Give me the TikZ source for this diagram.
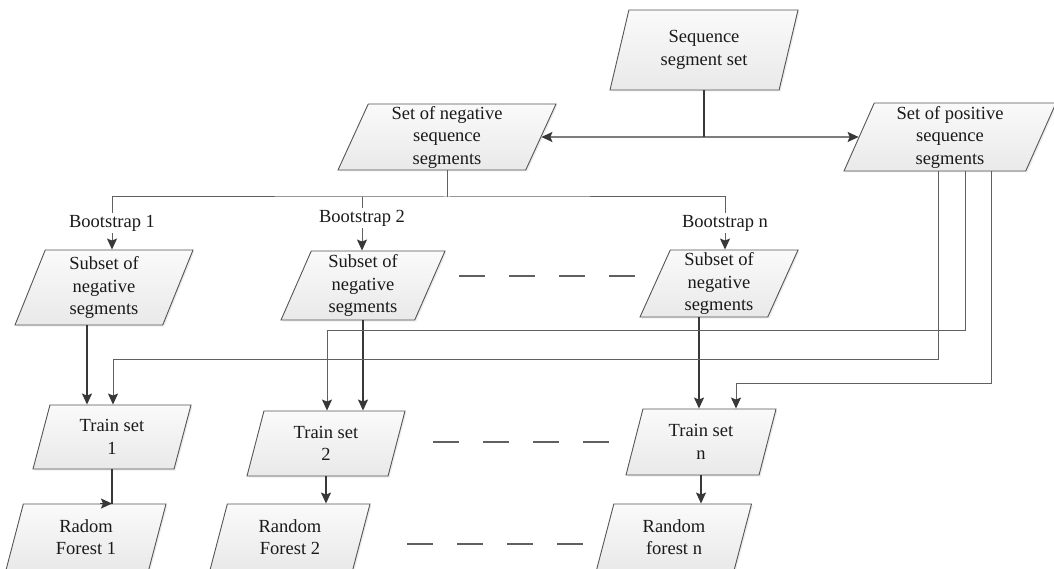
\documentclass[tikz,border=0pt]{standalone}
\usepackage{fontspec}
\setmainfont{Liberation Serif}
\usetikzlibrary{shapes.geometric,arrows.meta,shadows,calc}
\definecolor{edge}{HTML}{555555}
\definecolor{wirec}{HTML}{383838}
\definecolor{thinc}{HTML}{606060}
\definecolor{fillT}{HTML}{FAFAFA}
\definecolor{fillB}{HTML}{E9E9E9}
\definecolor{ink}{HTML}{1A1A1A}
\begin{document}
\begin{tikzpicture}[x=1pt,y=-1pt,
  every node/.style={font=\fontsize{18.5}{22.5}\selectfont, text=ink},
  box/.style={trapezium, trapezium left angle=64, trapezium right angle=116,
    trapezium stretches body, draw=edge, line width=0.9pt,
    top color=fillT, bottom color=fillB, inner sep=0pt, align=center,
    drop shadow={shadow xshift=1.5pt, shadow yshift=-1.5pt, opacity=0.15}},
  lbl/.style={inner sep=2pt},
  tip/.style={-{Stealth[length=11pt,width=10pt,inset=2pt,color=wirec]}},
  flow/.style={draw=wirec, line width=1.4pt, tip},
  plain/.style={draw=wirec, line width=1.4pt},
  thin/.style={draw=thinc, line width=1pt},
  feed/.style={thin, tip},
  etc/.style={draw=thinc, line width=1.2pt, dash pattern=on 26pt off 24pt}
]
\useasboundingbox (0,0) rectangle (1054,569);
\clip (0,0) rectangle (1054,569);

% data sets
\node[box, minimum width=188pt, minimum height=80pt] (seq) at (704,50) {Sequence\\segment set};
\node[box, minimum width=218pt, minimum height=66pt] (neg) at (447,137) {Set of negative\\sequence\\segments};
\node[box, minimum width=212pt, minimum height=68pt] (pos) at (950,137) {Set of positive\\sequence\\segments};

% bootstrap subsets
\node[box, minimum width=178pt, minimum height=75pt] (sub1) at (104,287.5) {Subset of\\negative\\segments};
\node[box, minimum width=164pt, minimum height=69pt] (sub2) at (363,285.5) {Subset of\\negative\\segments};
\node[box, minimum width=158pt, minimum height=67pt] (subn) at (719,283.5) {Subset of\\negative\\segments};

% training sets
\node[box, minimum width=158pt, minimum height=64pt] (tr1) at (112,437) {Train set\\1};
\node[box, minimum width=158pt, minimum height=65pt] (tr2) at (326,443.5) {Train set\\2};
\node[box, minimum width=150pt, minimum height=66pt] (trn) at (701,442) {Train set\\n};

% forests
\node[box, minimum width=160pt, minimum height=66pt] (rf1) at (86,537) {Radom\\Forest 1};
\node[box, minimum width=160pt, minimum height=66pt] (rf2) at (290,537) {Random\\Forest 2};
\node[box, minimum width=155pt, minimum height=66pt] (rfn) at (674,537) {Random\\forest n};

% bootstrap labels
\node[lbl] (bs1) at (112,223) {Bootstrap 1};
\node[lbl] (bs2) at (362,218) {Bootstrap 2};
\node[lbl] (bsn) at (725,223) {Bootstrap n};

% routing helpers
\coordinate (bus) at (447,197);
\coordinate (lvA) at (0,330);
\coordinate (lvB) at (0,359);
\coordinate (lvC) at (0,383);
\coordinate (s1x) at ($(sub1.center)+(-17,0)$);
\coordinate (snx) at ($(subn.center)+(-20,0)$);
\coordinate (p1) at ($(pos.center)+(-12,0)$);
\coordinate (p2) at ($(pos.center)+(15,0)$);
\coordinate (p3) at ($(pos.center)+(41,0)$);
\coordinate (t1x) at ($(tr1.center)+(1,0)$);
\coordinate (t2x) at ($(tr2.center)+(1,0)$);
\coordinate (tnx) at ($(trn.center)+(35,0)$);

% split into negative / positive
\draw[plain] (seq.center |- seq.south) -- (seq.center |- neg.center);
\draw[plain, {Stealth[length=11pt,width=10pt,inset=2pt,color=wirec]}-{Stealth[length=11pt,width=10pt,inset=2pt,color=wirec]}] (neg) -- (pos);

% bootstrap sampling
\draw[thin] (neg.center |- neg.south) -- (bus);
\draw[thin] (bs1.north) |- (bus) -| (bsn.north);
\draw[thin] (bs2.north) -- (bs2.north |- bus);
\draw[feed] (bs1.south) -- (bs1.south |- sub1.north);
\draw[feed] (bs2.south) -- (bs2.south |- sub2.north);
\draw[feed] (bsn.south) -- (bsn.south |- subn.north);

% subsets into training sets
\draw[flow] (s1x |- sub1.south) -- (s1x |- tr1.north);
\draw[flow] (sub2.center |- sub2.south) -- (sub2.center |- tr2.north);
\draw[flow] (snx |- subn.south) -- (snx |- trn.north);

% positive segments into every training set
\draw[feed] (p1 |- pos.south) |- (t1x |- lvB) -- (t1x |- tr1.north);
\draw[feed] (p2 |- pos.south) |- (t2x |- lvA) -- (t2x |- tr2.north);
\draw[feed] (p3 |- pos.south) |- (tnx |- lvC) -- (tnx |- trn.north);

% training sets into forests
\draw[plain] (tr1.center |- tr1.south) -- (tr1.center |- rf1.north);
\draw[flow] ($(tr1.center |- rf1.north)+(-12,0)$) -- (tr1.center |- rf1.north);
\draw[flow] (tr2.center |- tr2.south) -- (tr2.center |- rf2.north);
\draw[flow] (trn.center |- trn.south) -- (trn.center |- rfn.north);

% ellipsis rows
\draw[etc] (459,276) -- (641,276);
\draw[etc] (433,442) -- (609,442);
\draw[etc] (407,544) -- (583,544);
\end{tikzpicture}
\end{document}
